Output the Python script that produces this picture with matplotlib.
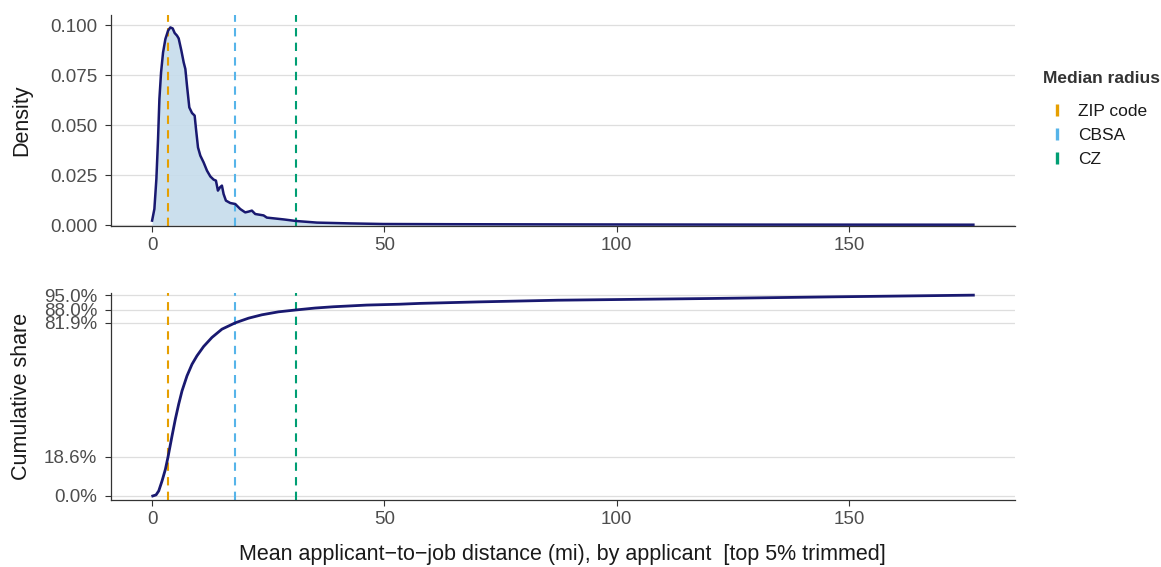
import numpy as np
import matplotlib
matplotlib.use("Agg")
import matplotlib.pyplot as plt
from matplotlib.lines import Line2D
from matplotlib.ticker import FixedLocator, FuncFormatter

plt.rcParams['font.family'] = ['Liberation Sans', 'DejaVu Sans']

# density of mean applicant-to-job distance
dens_x = [0.0, 0.49, 0.92, 1.28, 1.57, 1.93, 2.36, 2.86, 3.44, 3.93, 4.43, 4.86, 5.36,
          5.72, 6.30, 6.80, 7.16, 7.51, 8.01, 8.59, 9.16, 9.45, 9.88, 10.38, 11.09,
          11.81, 12.53, 13.24, 13.74, 14.17, 14.6, 15.03, 15.39, 15.89, 16.82, 17.9,
          18.97, 20.05, 20.76, 21.48, 22.2, 24.0, 24.7, 28.3, 31.0, 35.5, 42.6, 49.8,
          64.1, 90.0, 130.0, 176.8]
dens_y = [0.0022, 0.008, 0.023, 0.043, 0.063, 0.0763, 0.0863, 0.093, 0.0972, 0.0988,
          0.0983, 0.096, 0.0947, 0.0933, 0.0872, 0.0813, 0.078, 0.0697, 0.0588, 0.056,
          0.0547, 0.048, 0.0388, 0.0347, 0.0313, 0.0272, 0.0243, 0.0227, 0.0222,
          0.0172, 0.0188, 0.0197, 0.0155, 0.0122, 0.011, 0.0105, 0.008, 0.0063, 0.0067,
          0.0072, 0.0055, 0.0048, 0.0037, 0.0028, 0.002, 0.0012, 0.0008, 0.0005,
          0.0004, 0.0003, 0.0002, 0.00015]

# cumulative share
cdf_x = [0.14, 0.85, 1.43, 2.14, 2.86, 3.44, 4.29, 5.0, 5.72, 6.44, 7.51, 8.59, 9.66,
         11.09, 12.89, 15.03, 17.9, 20.76, 23.63, 27.2, 31.0, 35.1, 39.0, 46.2, 53.2,
         57.7, 70.2, 87.3, 119.6, 146.8, 176.8]
cdf_y = [0.0, 0.005, 0.024, 0.071, 0.126, 0.186, 0.284, 0.363, 0.434, 0.497, 0.568,
         0.623, 0.663, 0.707, 0.750, 0.789, 0.819, 0.841, 0.857, 0.871, 0.88, 0.889,
         0.895, 0.903, 0.907, 0.911, 0.918, 0.926, 0.934, 0.942, 0.95]

# median radii
radius_names = ["ZIP code", "CBSA", "CZ"]
radius_vals = [3.44, 17.9, 31.0]
radius_cols = ["#E69F00", "#56B4E9", "#009E73"]

cdf_ticks = [0.0, 0.186, 0.819, 0.88, 0.95]

line_col = "#191970"
fill_col = "#C6DCEC"
grid_col = "#DEDEDE"
text_col = "#4D4D4D"

fig = plt.figure(figsize=(11.61, 5.67), dpi=100)
ax1 = fig.add_axes([0.0956, 0.6014, 0.874 - 0.0956, 0.9735 - 0.6014])
ax2 = fig.add_axes([0.0956, 0.1182, 0.874 - 0.0956, 0.4832 - 0.1182])

for ax in (ax1, ax2):
    for s in ("top", "right"):
        ax.spines[s].set_visible(False)
    for s in ("left", "bottom"):
        ax.spines[s].set_color("#333333")
        ax.spines[s].set_linewidth(0.9)
    ax.set_xlim(-8.85, 185.7)
    ax.set_xticks([0, 50, 100, 150])
    ax.tick_params(axis="both", colors="#333333", labelcolor=text_col,
                   labelsize=13.5, length=4.5, width=0.8, pad=3.5)
    ax.tick_params(axis="y", pad=5.5)
    ax.grid(axis="y", color=grid_col, linewidth=0.9)
    ax.set_axisbelow(True)
    for v, c in zip(radius_vals, radius_cols):
        ax.axvline(v, color=c, linestyle=(0, (4, 3)), linewidth=1.5, zorder=2)

ax1.fill_between(dens_x, dens_y, 0, color=fill_col, alpha=0.9, zorder=1, linewidth=0)
ax1.plot(dens_x, dens_y, color=line_col, linewidth=1.8, zorder=3)
ax1.set_ylim(-0.0005, 0.105)
ax1.set_yticks([0, 0.025, 0.05, 0.075, 0.1])
ax1.yaxis.set_major_formatter(FuncFormatter(lambda v, p: f"{v:.3f}"))
ax1.set_ylabel("Density", fontsize=15.5, color="#1a1a1a")
ax1.yaxis.set_label_coords(-0.0874, 0.5)

ax2.plot(cdf_x, cdf_y, color=line_col, linewidth=2.0, zorder=3)
ax2.set_ylim(-0.019, 0.96)
ax2.yaxis.set_major_locator(FixedLocator(cdf_ticks))
ax2.yaxis.set_major_formatter(FuncFormatter(lambda v, p: f"{v * 100:.1f}%"))
ax2.set_ylabel("Cumulative share", fontsize=15.5, color="#1a1a1a")
ax2.yaxis.set_label_coords(-0.0874, 0.5)
ax2.set_xlabel("Mean applicant\u2212to\u2212job distance (mi), by applicant  [top 5% trimmed]",
               fontsize=15.5, color="#1a1a1a")
ax2.xaxis.set_label_coords(0.5, -0.2145)

fig.text(0.8984, 0.8624, "Median radius", fontsize=12.5, fontweight="bold",
         color="#333333", ha="left", va="center")
handles = [Line2D([], [], linestyle="none", marker="|", markersize=9,
                  markeredgewidth=2.4, color=c) for c in radius_cols]
leg = fig.legend(handles, radius_names, loc="upper left",
                 bbox_to_anchor=(0.8953, 0.8290), frameon=False, fontsize=12.5,
                 handlelength=1.2, handletextpad=0.6, labelspacing=0.51,
                 borderpad=0.4, borderaxespad=0)
for t in leg.get_texts():
    t.set_color("#1a1a1a")

fig.savefig("out.png", dpi=100)
